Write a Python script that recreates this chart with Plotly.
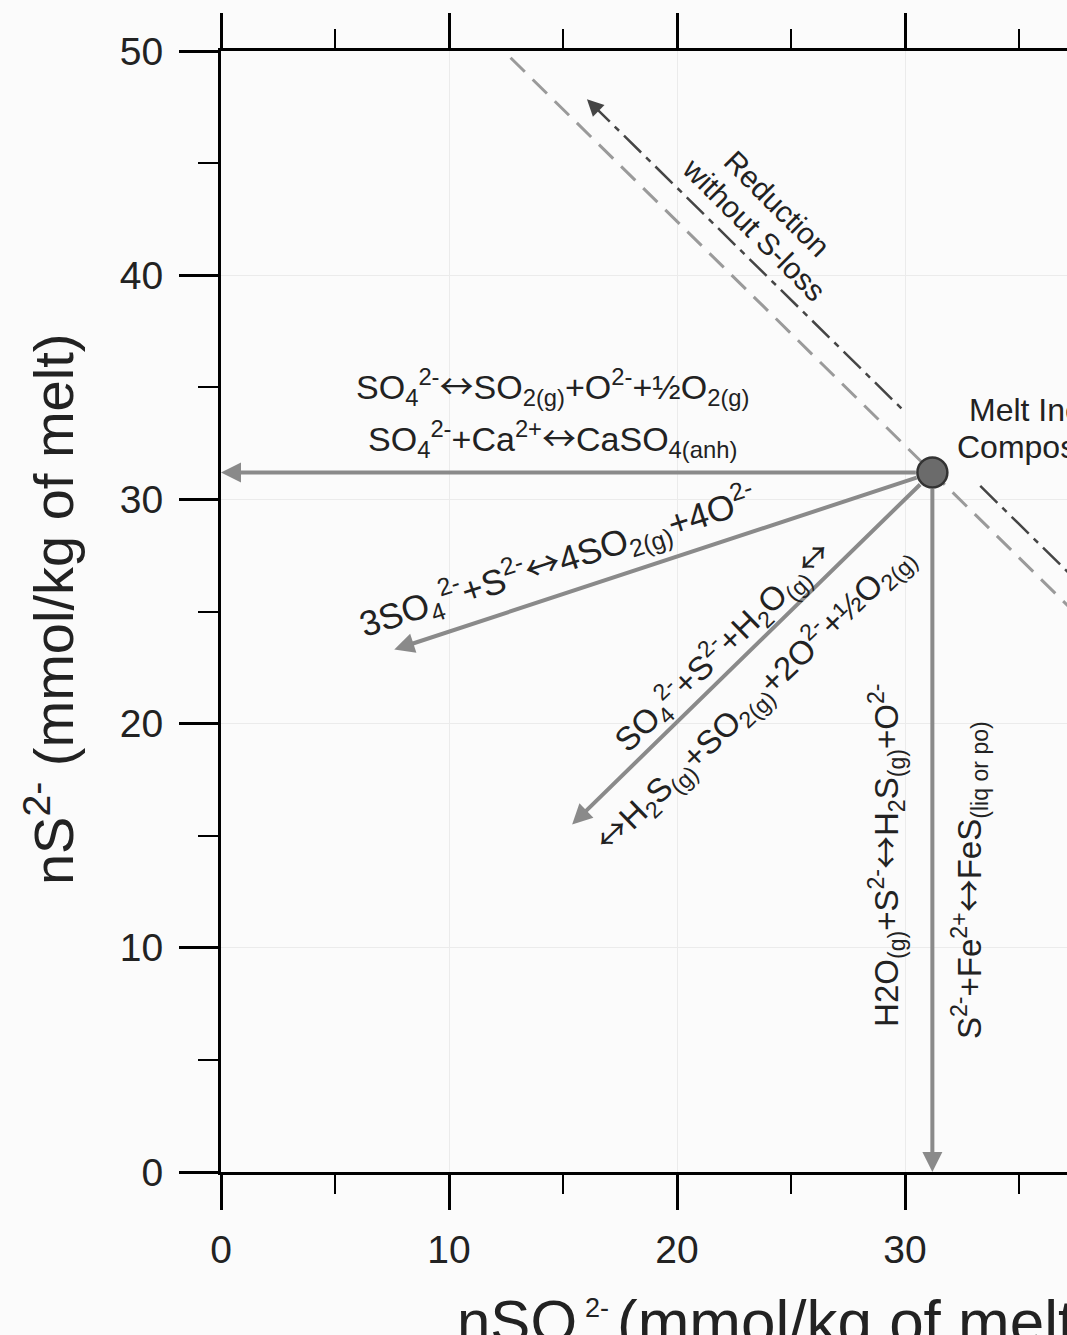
import plotly.graph_objects as go

# ---------------- data ----------------
melt_x = [31.2]
melt_y = [31.2]

# arrow tips (each arrow starts at the melt inclusion composition)
arrow_tip_x = [0.0, 7.6, 15.4, 31.2]
arrow_tip_y = [31.2, 23.3, 15.5, 0.0]

# constant total-S line (grey dashed)
const_s_x = [12.7, 37.3]
const_s_y = [49.7, 25.1]

# "Reduction without S-loss" dash-dot line (two segments)
red_x = [16.3, 30.0, None, 33.3, 37.5]
red_y = [47.6, 33.9, None, 30.6, 26.4]
red_tip = (16.05, 47.85)

x_ticks = [0, 10, 20, 30]
y_ticks = [0, 10, 20, 30, 40, 50]

FONT = "Liberation Sans, Arial, sans-serif"
TXT = "#222222"
ARROW = "#8a8a8a"
LR = "<span style=\"font-family:Noto Sans CJK SC\">↔</span>"

fig = go.Figure()

fig.add_trace(go.Scatter(x=const_s_x, y=const_s_y, mode="lines",
                         line=dict(color="#9a9a9a", width=3, dash="20px,11px"),
                         hoverinfo="skip", showlegend=False))
fig.add_trace(go.Scatter(x=red_x, y=red_y, mode="lines",
                         line=dict(color="#454545", width=2.5, dash="24px,7px,6px,7px"),
                         hoverinfo="skip", showlegend=False))
fig.add_trace(go.Scatter(x=melt_x, y=melt_y, mode="markers",
                         marker=dict(size=30, color="#6b6b6b", line=dict(color="#333333", width=2.5)),
                         hoverinfo="skip", showlegend=False, cliponaxis=False))

ann = []
for tx, ty in zip(arrow_tip_x, arrow_tip_y):
    ann.append(dict(x=tx, y=ty, ax=melt_x[0], ay=melt_y[0], xref="x", yref="y",
                    axref="x", ayref="y", text="", showarrow=True, arrowhead=2,
                    arrowsize=1, arrowwidth=4, arrowcolor=ARROW, standoff=0,
                    startstandoff=15))
# arrowhead of the dash-dot line
ann.append(dict(x=red_tip[0], y=red_tip[1], ax=red_tip[0] + 0.5, ay=red_tip[1] - 0.5,
                xref="x", yref="y", axref="x", ayref="y", text="", showarrow=True,
                arrowhead=2, arrowsize=1.1, arrowwidth=3, arrowcolor="#454545", standoff=0))


def label(x, y, text, size=32, angle=0, xanchor="center", yanchor="middle",
          color=TXT, ref="x"):
    ann.append(dict(x=x, y=y, xref=ref, yref=ref.replace("x", "y"), text=text,
                    showarrow=False, textangle=angle, xanchor=xanchor, yanchor=yanchor,
                    font=dict(family=FONT, size=size, color=color)))


label(14.56, 35.10, f"SO<sub>4</sub><sup>2-</sup>{LR}SO<sub>2(g)</sub>+O<sup>2-</sup>+½O<sub>2(g)</sub>", size=34)
label(14.56, 32.78, f"SO<sub>4</sub><sup>2-</sup>+Ca<sup>2+</sup>{LR}CaSO<sub>4(anh)</sub>", size=34)
label(14.73, 27.30, f"3SO<sub>4</sub><sup>2-</sup>+S<sup>2-</sup>{LR}4SO<sub>2(g)</sub>+4O<sup>2-</sup>", size=35.5, angle=-18)
label(21.97, 23.50, f"SO<sub>4</sub><sup>2-</sup>+S<sup>2-</sup>+H<sub>2</sub>O<sub>(g)</sub>{LR}", size=33, angle=-44)
label(23.33, 21.19, f"{LR}H<sub>2</sub>S<sub>(g)</sub>+SO<sub>2(g)</sub>+2O<sup>2-</sup>+½O<sub>2(g)</sub>", size=33, angle=-44)
label(29.12, 14.14, f"H2O<sub>(g)</sub>+S<sup>2-</sup>{LR}H<sub>2</sub>S<sub>(g)</sub>+O<sup>2-</sup>", size=33, angle=-90)
label(32.76, 13.02, f"S<sup>2-</sup>+Fe<sup>2+</sup>{LR}FeS<sub>(liq or po)</sub>", size=33, angle=-90)
label(24.39, 43.22, "Reduction", size=30, angle=45)
label(23.38, 42.02, "without S-loss", size=30, angle=45)
label(32.72, 33.99, "Melt Inclusion", size=32, xanchor="left")
label(32.19, 32.34, "Composition", size=32, xanchor="left")

# axis titles (paper coordinates)
label(-0.2021, 0.5013, "nS<sup>2-</sup> (mmol/kg of melt)", size=56, angle=-90, ref="paper")
label(0.2766, -0.1338, "nSO", size=60, xanchor="left", ref="paper")
label(0.4279, -0.1213, "2-", size=27, xanchor="left", ref="paper")
label(0.4279, -0.1560, "4", size=27, xanchor="left", ref="paper")
label(0.4657, -0.1338, "(mmol/kg of melt)", size=62, xanchor="left", ref="paper")

fig.update_layout(
    width=1067, height=1335,
    margin=dict(l=221, r=0, t=51, b=163, pad=0),
    paper_bgcolor="#fbfbfb", plot_bgcolor="#fbfbfb",
    font=dict(family=FONT, color=TXT),
    annotations=ann,
    showlegend=False,
)
fig.update_xaxes(range=[0, 37.105], tickvals=x_ticks, ticks="outside", ticklen=35,
                 tickwidth=2.5, tickcolor="black", showline=True, linewidth=3,
                 linecolor="black", mirror="ticks", showgrid=True, gridcolor="#ebebeb",
                 gridwidth=1, zeroline=False, tickfont=dict(size=39, color=TXT),
                 ticklabelstandoff=6,
                 minor=dict(dtick=5, tick0=0, ticks="outside", ticklen=19,
                            tickwidth=2, tickcolor="black", showgrid=False))
fig.update_yaxes(range=[0, 50], tickvals=y_ticks, ticks="outside", ticklen=39,
                 tickwidth=2.5, tickcolor="black", showline=True, linewidth=3,
                 linecolor="black", mirror=False, showgrid=True, gridcolor="#ebebeb",
                 gridwidth=1, zeroline=False, tickfont=dict(size=39, color=TXT),
                 ticklabelstandoff=8,
                 minor=dict(dtick=5, tick0=0, ticks="outside", ticklen=20,
                            tickwidth=2, tickcolor="black", showgrid=False))

fig.write_html("out.html")
